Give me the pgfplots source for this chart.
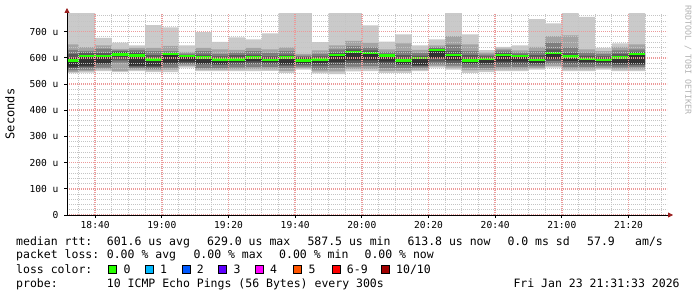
\documentclass[border=0pt]{standalone}
\usepackage{pgfplots}
\pgfplotsset{compat=1.18}
\usepackage{pgfplotstable}
\usepgfplotslibrary{fillbetween}
\usetikzlibrary{arrows.meta}
\usepackage{fontspec}
\setmainfont{DejaVu Sans Mono}
\definecolor{g1}{HTML}{CACACA}
\definecolor{g2}{HTML}{A4A4A4}
\definecolor{g3}{HTML}{7E7E7E}
\definecolor{g4}{HTML}{585858}
\definecolor{g5}{HTML}{323232}
\definecolor{lc0}{HTML}{26FF00}
\definecolor{lc1}{HTML}{00B8FF}
\definecolor{lc2}{HTML}{0059FF}
\definecolor{lc3}{HTML}{5E00FF}
\definecolor{lc4}{HTML}{FF00FF}
\definecolor{lc5}{HTML}{FF5500}
\definecolor{lc6}{HTML}{FF0000}
\definecolor{lc10}{HTML}{A10000}
\definecolor{arrowred}{HTML}{9A1F1F}
\definecolor{mgrid}{HTML}{EC9A9A}
\definecolor{ngrid}{HTML}{C4C4C4}
\pgfplotstableread{
m pmin p2 p3 p4 p5 p6 p7 p8 p9 pmax med
30 541 546 552 560 566 600 615 630 651 800 590
35 543 549 555 564 570 607 620 626 641 800 607
40 549 556 562 575 580 603 619 635 647 676 607
45 545 550 581 590 605 620 624 628 634 658 612
50 549 555 560 566 570 615 622 630 638 647 609
55 545 552 558 564 570 595 610 625 638 725 593
60 545 555 562 575 581 612 618 625 645 716 615
65 562 568 575 580 585 603 610 616 622 647 607
70 549 555 560 575 578 600 612 625 638 698 601
75 549 555 560 572 577 592 605 615 632 661 593
80 549 556 563 575 583 598 610 620 630 678 593
85 549 557 565 578 586 598 612 625 638 670 600
90 550 556 565 576 583 592 605 618 632 693 591
95 542 550 560 570 575 600 612 626 640 800 602
100 555 560 566 574 580 597 603 608 615 800 590
105 540 548 556 570 580 593 605 615 628 660 593
110 538 548 560 572 583 608 620 632 647 800 611
115 548 558 566 580 590 620 632 645 664 800 622
120 549 558 568 580 590 616 628 640 657 724 618
125 542 550 560 575 585 606 615 622 632 662 609
130 542 550 560 572 577 592 610 625 655 689 590
135 549 555 562 568 572 598 608 618 630 647 599
140 562 568 575 585 600 628 635 640 647 670 630
145 555 562 570 580 590 610 625 650 683 800 611
150 542 552 562 575 580 590 610 625 651 689 590
155 545 553 560 572 580 595 605 612 620 629 596
160 549 556 565 575 585 608 620 628 635 642 610
165 549 556 565 575 585 605 612 620 628 647 606
170 555 560 567 575 580 592 610 625 642 747 592
175 562 568 578 588 595 615 632 658 683 731 618
180 549 556 565 578 588 605 620 640 685 800 605
185 549 556 565 575 583 595 608 620 632 756 596
190 555 560 567 575 582 592 605 615 625 638 592
195 549 556 563 572 580 600 615 628 642 655 602
200 549 556 565 572 576 613 622 632 651 800 615
205 549 556 565 572 576 613 622 632 651 800 615
}\smoke
\newcommand{\lf}{\fontsize{11.5bp}{13bp}\selectfont}
\begin{document}
\begin{tikzpicture}[x=1bp,y=1bp]
\path (0,0) rectangle (697,297);
\begin{axis}[
  at={(67bp,82bp)}, anchor=south west,
  scale only axis, width=600bp, height=201bp,
  xmin=31.55, xmax=211.55, ymin=0, ymax=767,
  axis lines=left, axis on top,
  axis line style={draw=black, line width=0.8bp, -},
  x axis line style={-{Triangle[length=5bp,width=5bp,color=arrowred]}, shorten >=-6bp},
  y axis line style={-{Triangle[length=5bp,width=5bp,color=arrowred]}, shorten >=-6bp},
  xtick={40,60,80,100,120,140,160,180,200},
  xticklabels={18:40,19:00,19:20,19:40,20:00,20:20,20:40,21:00,21:20},
  minor xtick={35,45,50,55,65,70,75,85,90,95,105,110,115,125,130,135,145,150,155,165,170,175,185,190,195,205,210},
  ytick={0,100,200,300,400,500,600,700},
  yticklabels={0,100 u,200 u,300 u,400 u,500 u,600 u,700 u},
  minor ytick={20,40,60,80,120,140,160,180,220,240,260,280,320,340,360,380,420,440,460,480,520,540,560,580,620,640,660,680,720,740,760},
  grid=both,
  major grid style={draw=mgrid, line width=1.5bp, dash pattern=on 1bp off 1bp},
  minor grid style={draw=ngrid, line width=0.9bp, dash pattern=on 1bp off 1bp},
  tick align=outside, major tick length=3bp, minor tick length=0bp,
  tick style={draw=black, line width=0.8bp},
  ticklabel style={font=\fontsize{9.6bp}{11bp}\selectfont},
  yticklabel style={xshift=-2bp},
]
\addplot[const plot, draw=none, name path=a1] table[x=m,y=pmin]{\smoke};
\addplot[const plot, draw=none, name path=b1] table[x=m,y=pmax]{\smoke};
\addplot[g1] fill between[of=a1 and b1];
\addplot[const plot, draw=none, name path=a2] table[x=m,y=p2]{\smoke};
\addplot[const plot, draw=none, name path=b2] table[x=m,y=p9]{\smoke};
\addplot[g2] fill between[of=a2 and b2];
\addplot[const plot, draw=none, name path=a3] table[x=m,y=p3]{\smoke};
\addplot[const plot, draw=none, name path=b3] table[x=m,y=p8]{\smoke};
\addplot[g3] fill between[of=a3 and b3];
\addplot[const plot, draw=none, name path=a4] table[x=m,y=p4]{\smoke};
\addplot[const plot, draw=none, name path=b4] table[x=m,y=p7]{\smoke};
\addplot[g4] fill between[of=a4 and b4];
\addplot[const plot, draw=none, name path=a5] table[x=m,y=p5]{\smoke};
\addplot[const plot, draw=none, name path=b5] table[x=m,y=p6]{\smoke};
\addplot[g5] fill between[of=a5 and b5];
\addplot[jump mark left, draw=lc0, line width=2.6bp] table[x=m,y=med]{\smoke};
\end{axis}
% y label and watermark
\node[rotate=90, font=\fontsize{12bp}{13bp}\selectfont] at (10,183) {Seconds};
\node[rotate=-90, text=black!30, font=\fontsize{8.3bp}{9bp}\selectfont] at (688,237) {RRDTOOL / TOBI OETIKER};
% legend row 1
\node[anchor=base west, inner sep=0, font=\lf] at (16,52) {median rtt:};
\node[anchor=base west, inner sep=0, font=\lf] at (106.7,52) {601.6 us avg};
\node[anchor=base west, inner sep=0, font=\lf] at (207,52) {629.0 us max};
\node[anchor=base west, inner sep=0, font=\lf] at (307.3,52) {587.5 us min};
\node[anchor=base west, inner sep=0, font=\lf] at (407.3,52) {613.8 us now};
\node[anchor=base west, inner sep=0, font=\lf] at (507.3,52) {0.0 ms sd};
\node[anchor=base west, inner sep=0, font=\lf] at (587,52) {57.9};
\node[anchor=base west, inner sep=0, font=\lf] at (635,52) {am/s};
% row 2
\node[anchor=base west, inner sep=0, font=\lf] at (16,38.5) {packet loss:};
\node[anchor=base west, inner sep=0, font=\lf] at (106.7,38.5) {0.00 \% avg};
\node[anchor=base west, inner sep=0, font=\lf] at (193.3,38.5) {0.00 \% max};
\node[anchor=base west, inner sep=0, font=\lf] at (279,38.5) {0.00 \% min};
\node[anchor=base west, inner sep=0, font=\lf] at (364.4,38.5) {0.00 \% now};
% row 3
\node[anchor=base west, inner sep=0, font=\lf] at (16,23.5) {loss color:};
\foreach \bx/\c/\t in {123.3/lc0/0, 160/lc1/1, 196.7/lc2/2, 233.3/lc3/3, 270/lc4/4, 308.3/lc5/5, 346.7/lc6/6-9, 396/lc10/10\slash10}{
  \filldraw[fill=\c, draw=black, line width=0.8bp] (\bx-14.5,23.5) rectangle (\bx-6.5,31.5);
  \node[anchor=base west, inner sep=0, font=\lf] at (\bx,23.5) {\t};
}
% row 4
\node[anchor=base west, inner sep=0, font=\lf] at (16,10) {probe:};
\node[anchor=base west, inner sep=0, font=\lf] at (106.7,10) {10 ICMP Echo Pings (56 Bytes) every 300s};
\node[anchor=base west, inner sep=0, font=\lf] at (513.3,10) {Fri Jan 23 21:31:33 2026};
\end{tikzpicture}
\end{document}
